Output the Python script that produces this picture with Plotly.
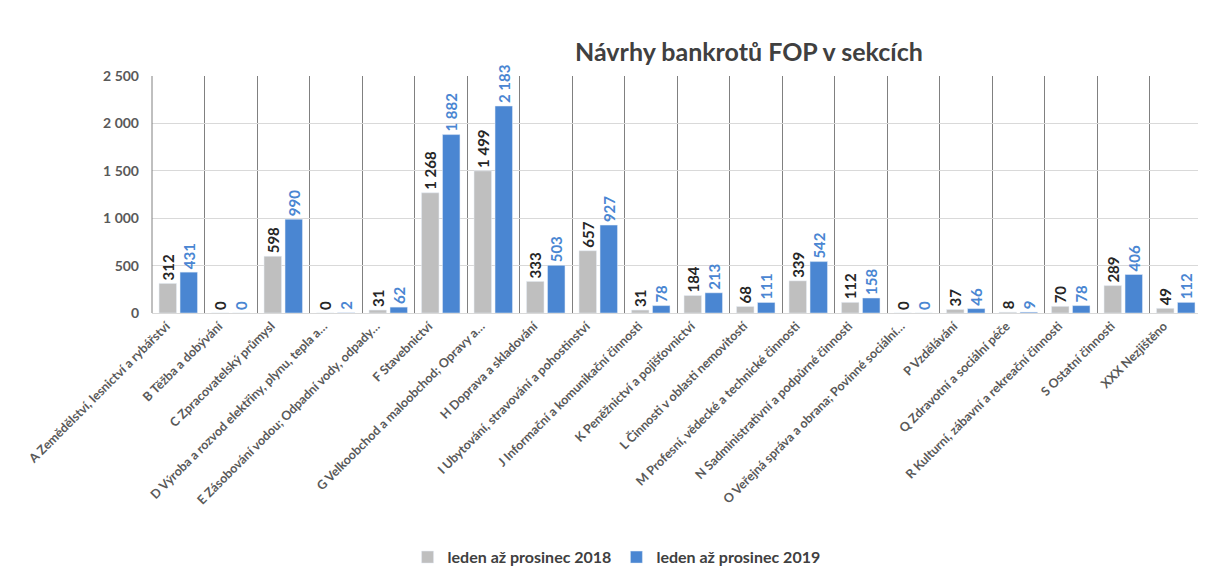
import plotly.graph_objects as go

categories = [
    "A Zemědělství, lesnictví a rybářství",
    "B Těžba a dobývání",
    "C Zpracovatelský průmysl",
    "D Výroba a rozvod elektřiny, plynu, tepla a…",
    "E Zásobování vodou; Odpadní vody, odpady…",
    "F Stavebnictví",
    "G Velkoobchod a maloobchod; Opravy a…",
    "H Doprava a skladování",
    "I Ubytování, stravování a pohostinství",
    "J Informační a komunikační činnosti",
    "K Peněžnictví a pojišťovnictví",
    "L Činnosti v oblasti nemovitostí",
    "M Profesní, vědecké a technické činnosti",
    "N Sadministrativní a podpůrné činnosti",
    "O Veřejná správa a obrana; Povinné sociální…",
    "P Vzdělávání",
    "Q Zdravotní a sociální péče",
    "R Kulturní, zábavní a rekreační činnosti",
    "S Ostatní činnosti",
    "XXX Nezjištěno",
]
series_names = ["leden až prosinec 2018", "leden až prosinec 2019"]
values_2018 = [312, 0, 598, 0, 31, 1268, 1499, 333, 657, 31, 184, 68, 339, 112, 0, 37, 8, 70, 289, 49]
values_2019 = [431, 0, 990, 2, 62, 1882, 2183, 503, 927, 78, 213, 111, 542, 158, 0, 46, 9, 78, 406, 112]
y_ticks = [0, 500, 1000, 1500, 2000, 2500]

FONT = "Lato"
GRAY = "#BFBFBF"
BLUE = "#4A86D2"

fig = go.Figure()
fig.add_trace(go.Bar(
    x=categories, y=values_2018, name=series_names[0],
    marker=dict(color=GRAY),
    texttemplate="%{y:,}", textposition="outside", textangle=-90,
    constraintext="none",
    textfont=dict(family=FONT, size=15, color="#262626", weight="bold"),
    cliponaxis=False,
))
fig.add_trace(go.Bar(
    x=categories, y=values_2019, name=series_names[1],
    marker=dict(color=BLUE),
    texttemplate="%{y:,}", textposition="outside", textangle=-90,
    constraintext="none",
    textfont=dict(family=FONT, size=15, color=BLUE, weight="bold"),
    cliponaxis=False,
))

# page body adds an 8px offset, so the figure is sized to fill the remaining window
fig.update_layout(
    width=1198, height=565,
    paper_bgcolor="white", plot_bgcolor="white",
    separators=", ",
    barmode="group", bargap=0.2, bargroupgap=0.17,
    margin=dict(l=144, r=4, t=68, b=260),
    title=dict(
        text="<b>Návrhy bankrotů FOP v sekcích</b>",
        font=dict(family=FONT, size=25, color="#404040"),
        x=0.6185, xanchor="center", y=0.922, yanchor="middle",
        xref="container", yref="container",
    ),
    font=dict(family=FONT, color="#595959"),
    legend=dict(
        orientation="h", xref="container", yref="container",
        x=0.508, xanchor="center", y=0.028, yanchor="middle",
        font=dict(family=FONT, size=16, color="#404040", weight="bold"),
        itemwidth=30, traceorder="normal",
    ),
    showlegend=True,
)
fig.update_xaxes(
    type="category", tickangle=-45, tickson="boundaries",
    showgrid=True, gridcolor="#808080", gridwidth=1,
    showline=True, linecolor="#D9D9D9", mirror=False,
    ticks="", ticklabelshift=-12,
    tickfont=dict(family=FONT, size=12.5, color="#595959", weight="bold"),
)
fig.update_yaxes(
    range=[0, 2500], tickvals=y_ticks, tickformat=",",
    showgrid=True, gridcolor="#D9D9D9", gridwidth=1,
    zeroline=False, showline=False, ticks="", ticklen=0,
    ticklabelstandoff=12,
    tickfont=dict(family=FONT, size=14, color="#595959", weight="bold"),
)
fig.add_shape(type="line", xref="paper", yref="paper", x0=0, x1=0, y0=0, y1=1,
              line=dict(color="#808080", width=1))
fig.add_shape(type="line", xref="paper", yref="paper", x0=1, x1=1, y0=0, y1=1,
              line=dict(color="#808080", width=1))

fig.write_html("out.html")
